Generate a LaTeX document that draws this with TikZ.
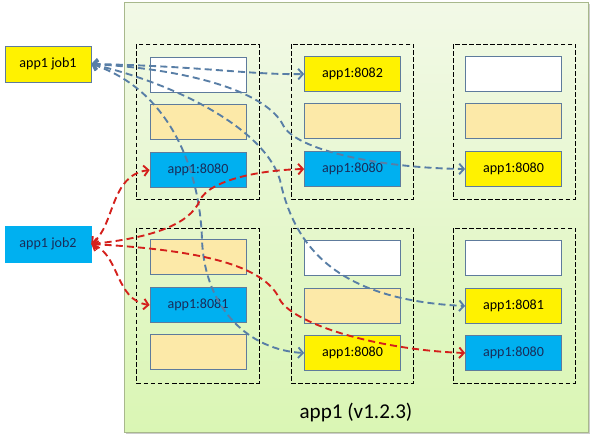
\documentclass[tikz,border=0pt]{standalone}
\usepackage{fontspec}
\setmainfont{Carlito}
\usetikzlibrary{arrows.meta}

\definecolor{slotblue}{RGB}{0, 176, 240}
\definecolor{slottan}{RGB}{252, 233, 168}
\definecolor{slotline}{RGB}{94, 123, 156}
\definecolor{linkblue}{RGB}{88, 126, 166}
\definecolor{linkred}{RGB}{212, 32, 28}
\definecolor{darktext}{RGB}{25, 45, 90}
\definecolor{hosttop}{RGB}{242, 249, 231}
\definecolor{hostbottom}{RGB}{218, 246, 180}
\definecolor{hostline}{RGB}{168, 184, 140}

\tikzset{
  slot/.style={draw=slotline, line width=0.6pt, minimum width=2.88cm,
    minimum height=1.05cm, inner sep=0pt, font=\fontsize{12}{14}\selectfont},
  group/.style={draw=black, dash pattern=on 4pt off 2pt, line width=0.6pt,
    minimum width=3.68cm, minimum height=4.65cm, inner sep=0pt},
  jobbox/.style={draw=slotline, line width=0.6pt, minimum width=2.58cm,
    minimum height=1.08cm, inner sep=0pt, font=\fontsize{12}{14}\selectfont},
  bluelink/.style={linkblue, line width=1.6pt, dash pattern=on 6pt off 3.5pt,
    {Straight Barb[length=4pt,width=9pt]}-{Straight Barb[length=4pt,width=9pt]}},
  redlink/.style={linkred, line width=1.6pt, dash pattern=on 6pt off 3.5pt,
    {Straight Barb[length=4pt,width=9pt]}-{Straight Barb[length=4pt,width=9pt]}}
}

\begin{document}
\begin{tikzpicture}[x=0.03cm, y=-0.03cm]

  \useasboundingbox (0,0) rectangle (590,435);

  % host area
  \fill[black!20] (126,4) rectangle (590,434);
  \shade[top color=hosttop, bottom color=hostbottom,
    draw=hostline, line width=0.6pt] (124,2) rectangle (588,432);
  \node[font=\fontsize{18}{20}\selectfont] (title) at (356,412) {app1 (v1.2.3)};

  % dashed groups
  \node[group] (ga) at (198,121.5) {};
  \node[group] (gb) at (352.5,121.5) {};
  \node[group] (gc) at (514.5,121.5) {};
  \node[group] (gd) at (198,305.5) {};
  \node[group] (ge) at (352.5,305.5) {};
  \node[group] (gf) at (514.5,305.5) {};

  % slots, upper row
  \node[slot, fill=white] (a1) at (198,75) {};
  \node[slot, fill=slottan] (a2) at (198,122) {};
  \node[slot, fill=slotblue, text=darktext] (a3) at (198,170) {app1:8080};

  \node[slot, fill=yellow] (b1) at (352.5,74) {app1:8082};
  \node[slot, fill=slottan] (b2) at (352.5,121) {};
  \node[slot, fill=slotblue, text=darktext] (b3) at (352.5,169) {app1:8080};

  \node[slot, fill=white] (c1) at (513.5,74) {};
  \node[slot, fill=slottan] (c2) at (513.5,121) {};
  \node[slot, fill=yellow] (c3) at (513.5,169) {app1:8080};

  % slots, lower row
  \node[slot, fill=slottan] (d1) at (198,257) {};
  \node[slot, fill=slotblue, text=darktext] (d2) at (198,305) {app1:8081};
  \node[slot, fill=slottan] (d3) at (198,352) {};

  \node[slot, fill=white] (e1) at (352.5,258) {};
  \node[slot, fill=slottan] (e2) at (352.5,306) {};
  \node[slot, fill=yellow] (e3) at (352.5,353) {app1:8080};

  \node[slot, fill=white] (f1) at (513.5,258) {};
  \node[slot, fill=yellow] (f2) at (513.5,306) {app1:8081};
  \node[slot, fill=slotblue, text=darktext] (f3) at (513.5,353) {app1:8080};

  % jobs
  \node[jobbox, fill=yellow] (job1) at (48,64) {app1 job1};
  \node[jobbox, fill=slotblue, draw=slotblue, text=darktext] (job2) at (48,244) {app1 job2};

  % job1 links
  \draw[bluelink] (job1.east) .. controls (200,66) and (250,75) .. (b1.west);
  \draw[bluelink] (job1.east) .. controls (200,70) and (268,95) .. (283,125)
    .. controls (295,150) and (380,168) .. (c3.west);
  \draw[bluelink] (job1.east) .. controls (180,85) and (265,130) .. (280,180)
    .. controls (295,250) and (340,300) .. (f2.west);
  \draw[bluelink] (job1.east) .. controls (170,90) and (200,170) .. (202,240)
    .. controls (205,310) and (250,350) .. (e3.west);

  % job2 links
  \draw[redlink] (job2.east) .. controls (115,225) and (110,175) .. (a3.west);
  \draw[redlink] (job2.east) .. controls (150,238) and (190,225) .. (200,200)
    .. controls (210,180) and (260,170) .. (b3.west);
  \draw[redlink] (job2.east) .. controls (120,255) and (115,300) .. (d2.west);
  \draw[redlink] (job2.east) .. controls (200,250) and (265,265) .. (280,300)
    .. controls (295,325) and (380,350) .. (f3.west);

\end{tikzpicture}
\end{document}
